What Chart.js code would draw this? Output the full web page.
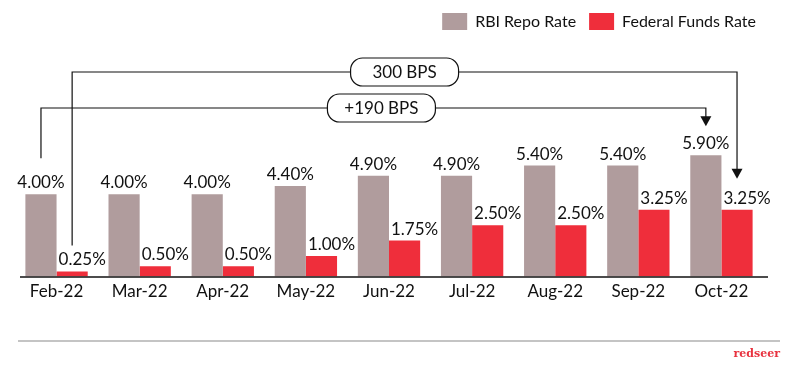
<!DOCTYPE html>
<html>
<head>
<meta charset="utf-8">
<script src="https://cdn.jsdelivr.net/npm/chart.js@4.4.1/dist/chart.umd.min.js"></script>
<style>
  html, body { margin: 0; padding: 0; background: #fff; }
  #grafico { display: block; }
</style>
</head>
<body>
<canvas id="grafico" width="795" height="366"></canvas>
<script>
// dados do gráfico
const meses = ['Feb-22', 'Mar-22', 'Apr-22', 'May-22', 'Jun-22', 'Jul-22', 'Aug-22', 'Sep-22', 'Oct-22'];
const taxaRbi = [4.00, 4.00, 4.00, 4.40, 4.90, 4.90, 5.40, 5.40, 5.90];
const taxaFed = [0.25, 0.50, 0.50, 1.00, 1.75, 2.50, 2.50, 3.25, 3.25];
const nomesSeries = ['RBI Repo Rate', 'Federal Funds Rate'];
const coresSeries = ['#b09c9d', '#ef2e3b'];
const anotacoes = [
    { texto: '300 BPS', serie: 1, yLinha: 72, folgaIni: 26, folgaFim: 31, desvio: 0 },
    { texto: '+190 BPS', serie: 0, yLinha: 108, folgaIni: 36, folgaFim: 29, desvio: 8 }
];

const fonte = 'Lato, "Open Sans", sans-serif';

function caixaRedonda(ctx, x, y, w, h, r) {
    ctx.beginPath();
    ctx.moveTo(x + r, y);
    ctx.lineTo(x + w - r, y);
    ctx.arcTo(x + w, y, x + w, y + r, r);
    ctx.lineTo(x + w, y + h - r);
    ctx.arcTo(x + w, y + h, x + w - r, y + h, r);
    ctx.lineTo(x + r, y + h);
    ctx.arcTo(x, y + h, x, y + h - r, r);
    ctx.lineTo(x, y + r);
    ctx.arcTo(x, y, x + r, y, r);
    ctx.closePath();
}

// empurra a legenda um pouco para a direita
const pluginLegenda = {
    id: 'legendaDireita',
    afterUpdate(chart) {
        const leg = chart.legend;
        if (!leg) return;
        leg.left += 6;
        leg.right += 6;
        (leg.legendHitBoxes || []).forEach(b => b.left += 6);
    }
};

// etiquetas, eixo, setas e rodapé
const pluginExtras = {
    id: 'extras',
    afterDatasetsDraw(chart) {
        const ctx = chart.ctx;
        const area = chart.chartArea;
        const metaRbi = chart.getDatasetMeta(0);
        const metaFed = chart.getDatasetMeta(1);
        ctx.save();

        // linha do eixo
        ctx.strokeStyle = '#111';
        ctx.lineWidth = 1.5;
        ctx.beginPath();
        ctx.moveTo(20, area.bottom + 0.5);
        ctx.lineTo(768, area.bottom + 0.5);
        ctx.stroke();

        // etiquetas dos valores
        ctx.font = '17px ' + fonte;
        ctx.fillStyle = '#111';
        ctx.textBaseline = 'alphabetic';
        metaRbi.data.forEach((barra, i) => {
            ctx.textAlign = 'center';
            ctx.fillText(taxaRbi[i].toFixed(2) + '%', barra.x, barra.y - 6);
        });
        metaFed.data.forEach((barra, i) => {
            ctx.textAlign = 'left';
            ctx.fillText(taxaFed[i].toFixed(2) + '%', barra.x - barra.width / 2 + 2, barra.y - 6);
        });

        // setas das anotações
        const ultimo = meses.length - 1;
        anotacoes.forEach(a => {
            const ini = chart.getDatasetMeta(a.serie).data[0];
            const fim = chart.getDatasetMeta(a.serie).data[ultimo];
            const x1 = ini.x, x2 = fim.x;
            const y1 = ini.y - a.folgaIni;
            const y2 = fim.y - a.folgaFim;
            ctx.strokeStyle = '#111';
            ctx.lineWidth = 1.2;
            ctx.beginPath();
            ctx.moveTo(x1, y1);
            ctx.lineTo(x1, a.yLinha);
            ctx.lineTo(x2, a.yLinha);
            ctx.lineTo(x2, y2 - 9);
            ctx.stroke();
            ctx.fillStyle = '#111';
            ctx.beginPath();
            ctx.moveTo(x2 - 5.5, y2 - 10);
            ctx.lineTo(x2 + 5.5, y2 - 10);
            ctx.lineTo(x2, y2);
            ctx.closePath();
            ctx.fill();

            const cx = (x1 + x2) / 2 + a.desvio;
            caixaRedonda(ctx, cx - 54, a.yLinha - 14, 108, 28, 12);
            ctx.fillStyle = '#fff';
            ctx.fill();
            ctx.stroke();
            ctx.fillStyle = '#111';
            ctx.textAlign = 'center';
            ctx.textBaseline = 'middle';
            ctx.font = '17px ' + fonte;
            ctx.fillText(a.texto, cx, a.yLinha + 1);
            ctx.textBaseline = 'alphabetic';
        });

        // rodapé
        ctx.strokeStyle = '#8a8a8a';
        ctx.lineWidth = 1.2;
        ctx.beginPath();
        ctx.moveTo(18, 341);
        ctx.lineTo(780, 341);
        ctx.stroke();
        ctx.fillStyle = '#e8323f';
        ctx.font = 'bold 11px "DejaVu Serif", serif';
        ctx.textAlign = 'right';
        ctx.fillText('redseer', 780, 357);
        ctx.restore();
    }
};

window.onload = function() {
    new Chart(document.getElementById('grafico').getContext('2d'), {
        type: 'bar',
        data: {
            labels: meses,
            datasets: [
                { label: nomesSeries[0], data: taxaRbi, backgroundColor: coresSeries[0] },
                { label: nomesSeries[1], data: taxaFed, backgroundColor: coresSeries[1] }
            ]
        },
        options: {
            responsive: false,
            animation: false,
            layout: { padding: { left: 15, right: 32, top: 0, bottom: 59 } },
            datasets: { bar: { categoryPercentage: 0.75, barPercentage: 1.0 } },
            scales: {
                x: {
                    grid: { display: false, drawTicks: false },
                    border: { display: false },
                    ticks: { color: '#111', font: { family: fonte, size: 17 }, padding: 5, maxRotation: 0 }
                },
                y: { display: false, min: 0, max: 11.5 }
            },
            plugins: {
                legend: {
                    align: 'end',
                    labels: {
                        boxWidth: 25, boxHeight: 17, color: '#111',
                        font: { family: fonte, size: 16 }, padding: 13
                    }
                },
                tooltip: { enabled: false }
            }
        },
        plugins: [pluginLegenda, pluginExtras]
    });
};
</script>
</body>
</html>
